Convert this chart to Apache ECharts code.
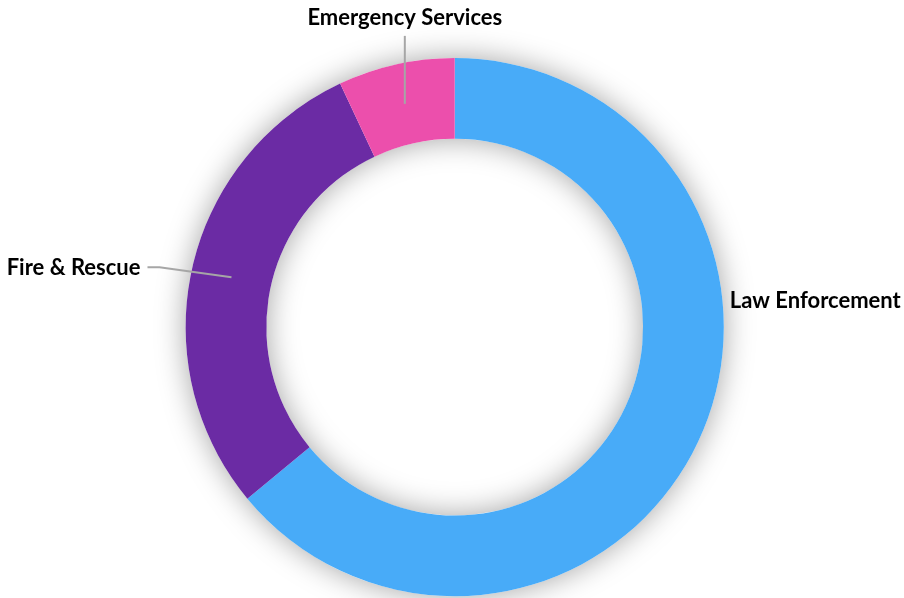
<!DOCTYPE html>
<html>
<head>
<meta charset="utf-8">
<script src="https://cdn.jsdelivr.net/npm/echarts@6/dist/echarts.min.js"></script>
<style>
  html, body { margin: 0; padding: 0; background: #ffffff; }
  #chart { width: 904px; height: 598px; }
</style>
</head>
<body>
<div id="chart"></div>
<script>
// Share of personnel by service
const categories = ['Law Enforcement', 'Fire & Rescue', 'Emergency Services'];
const shares = [64, 29, 7];
const colors = ['#48ABF8', '#6B2BA4', '#EC4FAC'];

const CENTER = ['50.3%', '54.7%'];
const OUTER = '90%';
const INNER = '63%';
const MID = '76.5%';

const data = categories.map((name, i) => ({
  name: name,
  value: shares[i],
  itemStyle: { color: colors[i] }
}));

const chart = echarts.init(document.getElementById('chart'), null, { renderer: 'canvas' });

const labelFont = {
  fontFamily: 'Lato, "Open Sans", sans-serif',
  fontWeight: 'bold',
  fontSize: 22,
  color: '#000000'
};

chart.setOption({
  animation: false,
  backgroundColor: '#ffffff',
  series: [
    {
      // soft halo behind the whole ring
      type: 'pie',
      silent: true,
      z: 1,
      center: CENTER,
      radius: [INNER, OUTER],
      label: { show: false },
      labelLine: { show: false },
      itemStyle: {
        color: '#ffffff',
        shadowBlur: 30,
        shadowColor: 'rgba(0,0,0,0.36)'
      },
      data: [{ value: 1, name: '' }]
    },
    {
      // the ring itself
      type: 'pie',
      z: 2,
      center: CENTER,
      radius: [INNER, OUTER],
      startAngle: 90,
      clockwise: true,
      label: { show: false },
      labelLine: { show: false },
      data: data
    },
    {
      // invisible mid-ring copy carrying the labels, so leader lines start inside the band
      type: 'pie',
      z: 3,
      silent: true,
      center: CENTER,
      radius: [INNER, MID],
      startAngle: 90,
      clockwise: true,
      itemStyle: { color: 'rgba(0,0,0,0)' },
      label: Object.assign({ show: true, formatter: '{b}', overflow: 'none' }, labelFont),
      labelLine: {
        show: true,
        length: 60,
        length2: 12,
        lineStyle: { color: '#A6A6A6', width: 2 }
      },
      labelLayout: function (p) {
        const pts = p.labelLinePoints;
        const s = pts ? pts[0] : null;
        const w = chart.getWidth(), h = chart.getHeight();
        const r = Math.min(w, h) / 2;
        const cx = w * parseFloat(CENTER[0]) / 100;
        const cy = h * parseFloat(CENTER[1]) / 100;
        if (p.dataIndex === 0) {
          return {
            x: cx + r * parseFloat(OUTER) / 100 + 6,
            y: cy - 26,
            align: 'left',
            verticalAlign: 'middle',
            labelLinePoints: [[cx, cy], [cx, cy]]
          };
        }
        if (p.dataIndex === 1 && s) {
          const bend = [s[0] - 72, s[1] - 10];
          const end = [bend[0] - 12, bend[1]];
          return {
            x: end[0] - 7,
            y: end[1] + 1,
            align: 'right',
            verticalAlign: 'middle',
            labelLinePoints: [s, bend, end]
          };
        }
        if (p.dataIndex === 2 && s) {
          const top = [s[0], s[1] - 68];
          return {
            x: top[0],
            y: top[1] - 7,
            align: 'center',
            verticalAlign: 'bottom',
            labelLinePoints: [s, top]
          };
        }
      },
      data: data.map(d => ({ name: d.name, value: d.value }))
    }
  ]
});
</script>
</body>
</html>
